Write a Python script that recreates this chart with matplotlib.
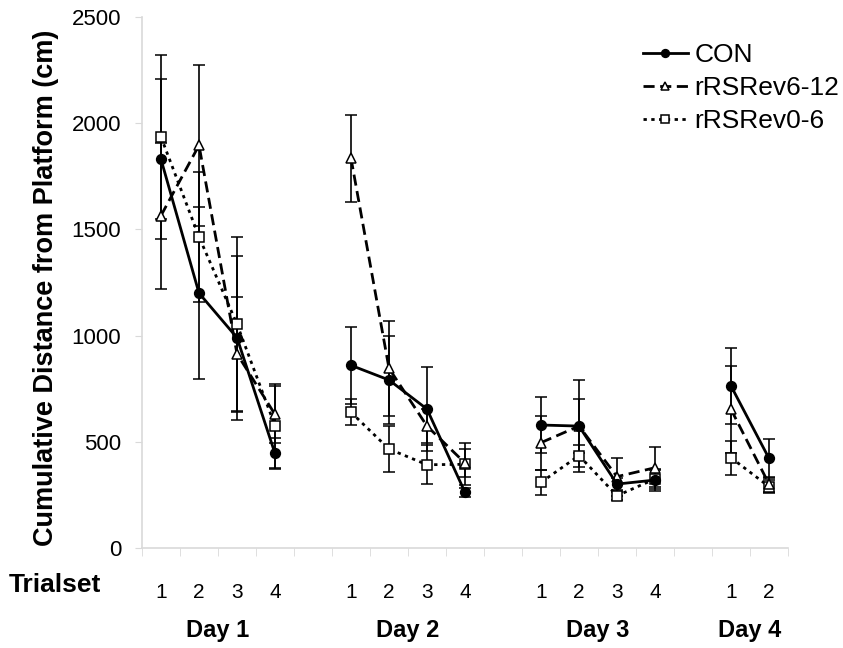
import numpy as np
import matplotlib
matplotlib.use("Agg")
import matplotlib.pyplot as plt
from matplotlib.lines import Line2D

plt.rcParams["font.family"] = ["Liberation Sans", "DejaVu Sans"]

nan = np.nan

trial_labels = ["1", "2", "3", "4", "", "1", "2", "3", "4", "",
                "1", "2", "3", "4", "", "1", "2"]
day_labels = ["Day 1", "Day 2", "Day 3", "Day 4"]
day_centers = [1.5, 6.5, 11.5, 15.5]

con = [1830, 1200, 990, 445, nan, 860, 791, 654, 262, nan,
       579, 574, 301, 320, nan, 763, 422]
con_err = [377, 406, 386, 73, nan, 180, 209, 198, 20, nan,
           132, 217, 30, 50, nan, 177, 91]

rev612 = [1565, 1896, 914, 629, nan, 1835, 846, 574, 400, nan,
          496, 574, 336, 378, nan, 653, 301]
rev612_err = [344, 380, 270, 134, nan, 205, 224, 80, 66, nan,
              127, 126, 89, 99, nan, 204, 35]

rev06 = [1935, 1465, 1054, 576, nan, 639, 466, 392, 394, nan,
         309, 435, 246, 325, nan, 425, 289]
rev06_err = [385, 305, 412, 197, nan, 61, 110, 92, 99, nan,
             60, 52, 20, 40, nan, 79, 30]

x = np.arange(len(trial_labels))
axis_grey = "#d9d9d9"

fig = plt.figure(figsize=(8.43, 6.48), dpi=100)
ax = fig.add_axes([142 / 843, 100 / 648, 646 / 843, 531 / 648])

series = [
    ("rRSRev0-6", rev06, rev06_err, dict(ls=(0, (1.2, 1.6)), marker="s", mfc="white", ms=7)),
    ("rRSRev6-12", rev612, rev612_err, dict(ls=(0, (4, 2)), marker="^", mfc="white", ms=7)),
    ("CON", con, con_err, dict(ls="-", marker="o", mfc="black", ms=7)),
]
for name, vals, errs, style in series:
    ax.errorbar(x, vals, yerr=errs, color="black", lw=2, elinewidth=1.2,
                capsize=4, capthick=1.2, mec="black", mew=1.1,
                label=name, **style)

ax.set_xlim(-0.5, len(trial_labels) - 0.5)
ax.set_ylim(0, 2500)
ax.set_yticks(np.arange(0, 2501, 500))
ax.tick_params(axis="y", labelsize=16, length=5, color=axis_grey, pad=10)

ax.set_xticks(x)
ax.set_xticklabels(trial_labels)
ax.set_xticks(np.arange(-0.5, len(trial_labels)), minor=True)
ax.tick_params(axis="x", which="major", length=0, labelsize=15, pad=25)
ax.tick_params(axis="x", which="minor", length=6, color=axis_grey)

for side in ["top", "right"]:
    ax.spines[side].set_visible(False)
for side in ["left", "bottom"]:
    ax.spines[side].set_color(axis_grey)
    ax.spines[side].set_linewidth(1.2)

ax.set_ylabel("Cumulative Distance from Platform (cm)", fontsize=19.5,
              fontweight="bold")
ax.yaxis.set_label_coords(-0.128, 0.49)

fig.text(9 / 843, 1 - 585 / 648, "Trialset", fontsize=19, fontweight="bold",
         va="center", ha="left")
for label, cx in zip(day_labels, day_centers):
    ax.text(cx, -0.155, label, transform=ax.get_xaxis_transform(),
            fontsize=17, fontweight="bold", ha="center", va="center")

order = [2, 1, 0]
legend_handles = []
for name, vals, errs, style in [series[i] for i in order]:
    legend_handles.append(Line2D([], [], color="black", lw=2, mec="black",
                                 mew=1.1, **style))
ax.legend(legend_handles, [series[i][0] for i in order], loc="upper left",
          bbox_to_anchor=(643 / 843, 1 - 43 / 648),
          bbox_transform=fig.transFigure, borderaxespad=0, borderpad=0,
          frameon=False, fontsize=19, handlelength=1.7, handletextpad=0.25,
          labelspacing=0.35, markerscale=0.8)

fig.savefig("out.png", dpi=100)
